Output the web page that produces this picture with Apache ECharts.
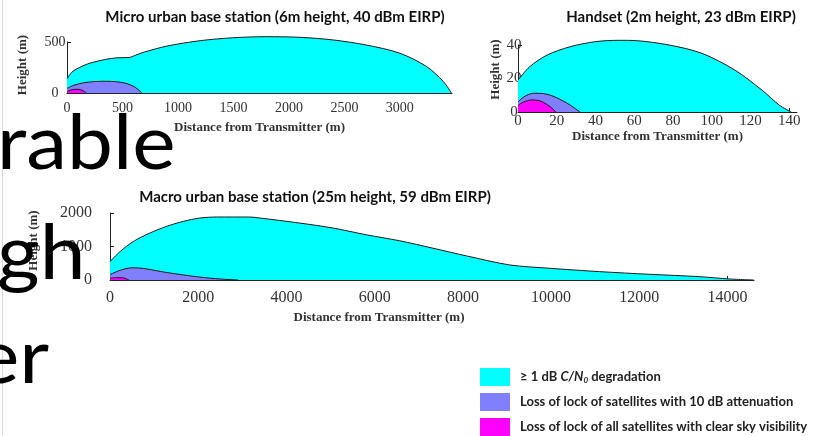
<!DOCTYPE html>
<html>
<head>
<meta charset="utf-8">
<script src="https://cdn.jsdelivr.net/npm/echarts@6/dist/echarts.min.js"></script>
<style>html,body{margin:0;padding:0;background:#fff;}#c{width:816px;height:436px;}</style>
</head>
<body>
<div id="c"></div>
<script>
// ---- Data (distance m, height m) ----
var seriesNames = ['≥ 1 dB C/N0 degradation', 'Loss of lock of satellites with 10 dB attenuation', 'Loss of lock of all satellites with clear sky visibility'];
var chartTitles = ['Micro urban base station (6m height, 40 dBm EIRP)', 'Handset (2m height, 23 dBm EIRP)', 'Macro urban base station (25m height, 59 dBm EIRP)'];
var backText = ['rable', 'gh', 'er'];

var microCyan = [[0,140],[40,200],[90,238],[200,290],[350,330],[450,345],[560,348],[620,372],[700,402],[900,460],[1200,513],[1500,542],[1800,552],[2100,546],[2400,520],[2700,470],[3000,390],[3240,260],[3390,115],[3465,0]];
var microPurple = [[0,45],[60,75],[150,100],[250,112],[350,115],[450,110],[530,95],[600,65],[640,35],[675,0]];
var microMagenta = [[0,15],[30,28],[80,36],[120,33],[150,20],[175,0]];

var handCyan = [[0,19],[6,27],[15,34],[27,39],[40,42],[52,42.8],[61,42.6],[78,40],[95,35],[112,25],[126,13],[135,4],[141,0]];
var handPurple = [[0,6],[3,9],[8,11.2],[13,11],[18,9.5],[25,5.5],[29,2.5],[32,0]];
var handMagenta = [[0,4],[3,6],[7,7.2],[11,6.8],[15,4.5],[18,1.8],[19.5,0]];

var macroCyan = [[0,550],[230,850],[530,1150],[900,1400],[1280,1600],[1660,1750],[2040,1850],[2420,1880],[3170,1880],[3400,1850],[4300,1700],[5060,1550],[5810,1350],[6570,1170],[7320,950],[8080,720],[9060,450],[9970,350],[11100,250],[12230,170],[13360,100],[14050,30],[14600,0]];
var macroPurple = [[0,160],[230,290],[500,365],[760,345],[1280,225],[2040,85],[2500,30],[2900,0]];
var macroMagenta = [[0,55],[150,70],[300,65],[380,30],[430,0]];

var fillColors = ['#00FFFF', '#8080FF', '#FF00FF'];

var serif = 'Liberation Serif';
var chart = echarts.init(document.getElementById('c'));
function plain(v) { return String(v); }

function mkSeries(data, idx, gi) {
  return {
    type: 'line', name: seriesNames[idx], data: data,
    xAxisIndex: gi, yAxisIndex: gi,
    showSymbol: false, smooth: 0.3, clip: false, z: 2 + idx,
    itemStyle: {color: fillColors[idx]},
    lineStyle: {color: '#1a1a1a', width: 1},
    areaStyle: {color: fillColors[idx], opacity: 1},
    animation: false
  };
}
function xAx(gi, max, interval, name, nameGap, labelSize, labelMargin, pad) {
  return {
    gridIndex: gi, type: 'value', min: 0, max: max, interval: interval,
    name: name, nameLocation: 'middle', nameGap: nameGap,
    nameTextStyle: {fontFamily: serif, fontWeight: 'bold', fontSize: 13, color: '#333', padding: pad || 0},
    axisLine: {show: true, lineStyle: {color: '#222', width: 1}},
    axisTick: {show: true, inside: true, length: 4, lineStyle: {color: '#222'}},
    axisLabel: {fontFamily: serif, fontSize: labelSize, color: '#333', margin: labelMargin, showMaxLabel: false, formatter: plain},
    splitLine: {show: false}
  };
}
function yAx(gi, max, interval, nameGap, labelSize, labelMargin, align, pad) {
  return {
    gridIndex: gi, type: 'value', min: 0, max: max, interval: interval,
    name: 'Height (m)', nameLocation: 'middle', nameGap: nameGap, nameRotate: 90,
    nameTextStyle: {fontFamily: serif, fontWeight: 'bold', fontSize: 13, color: '#333', padding: pad || 0},
    axisLine: {show: true, lineStyle: {color: '#222', width: 1}},
    axisTick: {show: true, inside: true, length: 4, lineStyle: {color: '#222'}},
    axisLabel: {fontFamily: serif, fontSize: labelSize, color: '#333', margin: labelMargin, align: align, formatter: plain},
    splitLine: {show: false}
  };
}
var titleStyle = {fontFamily: 'Lato', fontWeight: 'bold', fontSize: 15, color: '#111'};

var option = {
  backgroundColor: '#fff',
  animation: false,
  title: [
    {text: chartTitles[0], left: 270, top: 5, textAlign: 'center', textStyle: titleStyle},
    {text: chartTitles[1], left: 676, top: 5, textAlign: 'center', textStyle: titleStyle},
    {text: chartTitles[2], left: 310, top: 185, textAlign: 'center', textStyle: titleStyle}
  ],
  grid: [
    {left: 67, top: 42, width: 385, height: 51},
    {left: 518, top: 45, width: 279, height: 67},
    {left: 110, top: 213, width: 644, height: 67}
  ],
  xAxis: [
    xAx(0, 3470, 500, 'Distance from Transmitter (m)', 28, 14, 8),
    xAx(1, 144, 20, 'Distance from Transmitter (m)', 14, 15, 2),
    xAx(2, 14600, 2000, 'Distance from Transmitter (m)', 31, 16, 10, [0, 106, 0, 0])
  ],
  yAxis: [
    yAx(0, 500, 500, 38, 14, 12, 'center', [0, 0, 0, 5]),
    yAx(1, 40, 20, 14, 15, 4, 'center', [0, 0, 0, 18]),
    yAx(2, 2000, 1000, 70, 16, 18, 'right', [0, 0, 0, 12])
  ],
  legend: {
    orient: 'vertical', left: 480, top: 368, padding: 0, height: 80,
    itemWidth: 30, itemHeight: 18, itemGap: 7, icon: 'rect',
    itemStyle: {borderWidth: 0},
    data: seriesNames,
    formatter: function (n) {
      if (n === seriesNames[0]) return '{t|≥ 1 dB }{i|C/N}{s|0}{t| degradation}';
      return '{t|' + n + '}';
    },
    textStyle: {
      padding: [0, 0, 0, 5],
      rich: {
        t: {fontFamily: 'Lato', fontWeight: 'bold', fontSize: 13, color: '#222'},
        i: {fontFamily: 'Lato', fontWeight: 'bold', fontStyle: 'italic', fontSize: 13, color: '#222'},
        s: {fontFamily: 'Lato', fontWeight: 'bold', fontStyle: 'italic', fontSize: 8, color: '#222', verticalAlign: 'bottom', padding: [7, 0, 0, 0]}
      }
    }
  },
  graphic: [
    {type: 'line', shape: {x1: 2.5, y1: 0, x2: 2.5, y2: 436}, style: {stroke: '#d9d9d9', lineWidth: 1}, z: 50},
    {type: 'text', x: -3, y: 106, scaleX: 1.08, z: 100, style: {text: backText[0], font: '76px Lato', fill: '#000', textVerticalAlign: 'top'}},
    {type: 'text', x: -3, y: 216, scaleX: 1.08, z: 100, style: {text: backText[1], font: '76px Lato', fill: '#000', textVerticalAlign: 'top'}},
    {type: 'text', x: -24, y: 320, scaleX: 1.08, z: 100, style: {text: backText[2], font: '76px Lato', fill: '#000', textVerticalAlign: 'top'}}
  ],
  series: [
    mkSeries(microCyan, 0, 0), mkSeries(microPurple, 1, 0), mkSeries(microMagenta, 2, 0),
    mkSeries(handCyan, 0, 1), mkSeries(handPurple, 1, 1), mkSeries(handMagenta, 2, 1),
    mkSeries(macroCyan, 0, 2), mkSeries(macroPurple, 1, 2), mkSeries(macroMagenta, 2, 2)
  ]
};
chart.setOption(option);
</script>
</body>
</html>
